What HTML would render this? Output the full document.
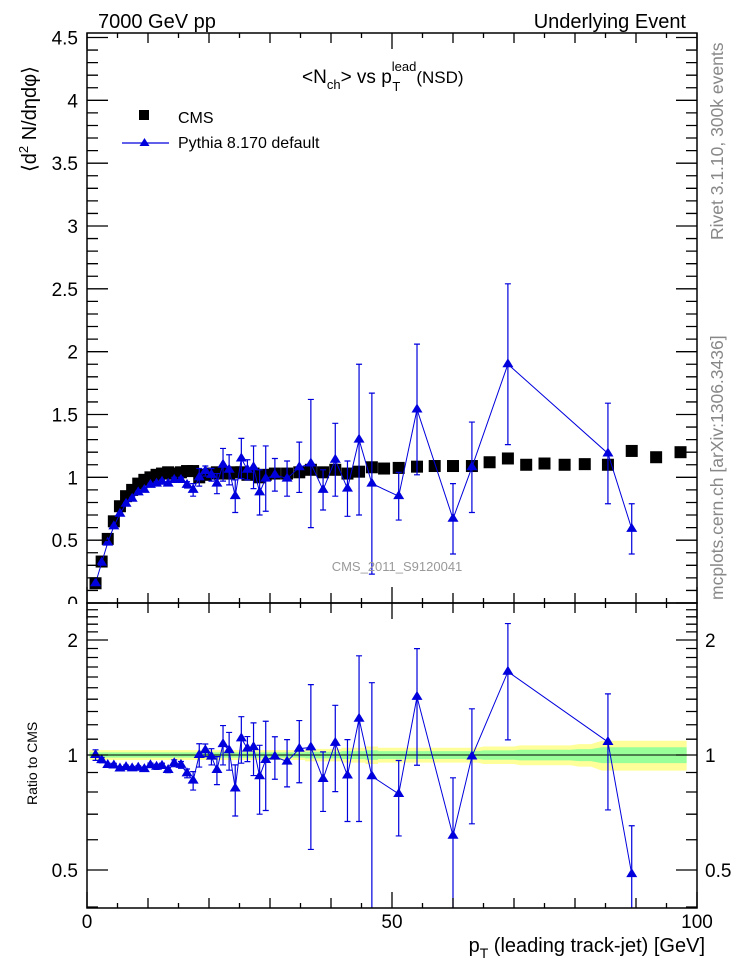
<!DOCTYPE html>
<html><head><meta charset="utf-8"><style>
html,body{margin:0;padding:0;background:#fff;}
svg{display:block;font-family:"Liberation Sans",sans-serif;}
</style></head><body>
<svg id="chart" width="746" height="972" viewBox="0 0 746 972" xmlns="http://www.w3.org/2000/svg">
<g id="bands"></g>
<g id="marks"></g>
<g id="axes"></g>
<text x="98" y="28" font-size="20">7000 GeV pp</text>
<text x="686" y="28" font-size="20" text-anchor="end">Underlying Event</text>
<text x="302" y="83" font-size="19">&lt;N<tspan font-size="13" dy="6">ch</tspan><tspan dy="-6">&gt; vs p</tspan><tspan font-size="13" dy="-12">lead</tspan><tspan font-size="13" dx="-24" dy="20">T</tspan><tspan dx="16" dy="-8" font-size="17">(NSD)</tspan></text>
<g>
<rect x="139" y="110" width="10" height="10" fill="#000"/>
<text x="178" y="123" font-size="16">CMS</text>
<line x1="122" y1="143" x2="169" y2="143" stroke="#0000dd" stroke-width="1.2"/>
<path d="M144.5,138 L149.5,146 L139.5,146 Z" fill="#0000dd"/>
<text x="178" y="148" font-size="16">Pythia 8.170 default</text>
</g>
<text x="397" y="571" font-size="13" fill="#999" text-anchor="middle">CMS_2011_S9120041</text>
<text transform="translate(723,240) rotate(-90)" font-size="17.5" fill="#888">Rivet 3.1.10,  300k events</text>
<text transform="translate(723,600) rotate(-90)" font-size="17.5" fill="#888">mcplots.cern.ch [arXiv:1306.3436]</text>
<text transform="translate(36,172) rotate(-90)" font-size="20">⟨d<tspan font-size="13" dy="-8">2</tspan><tspan dy="8"> N/dηdφ⟩</tspan></text>
<text transform="translate(37,805) rotate(-90)" font-size="14">Ratio to CMS</text>
<text x="705" y="952" font-size="20" text-anchor="end">p<tspan font-size="14" dy="6">T</tspan><tspan dy="-6"> (leading track-jet) [GeV]</tspan></text>
</svg>
<script>
const cmsX=[1.4,2.4,3.4,4.4,5.4,6.4,7.4,8.4,9.4,10.4,11.4,12.3,13.3,14.3,15.4,16.4,17.4,18.4,19.4,20.4,21.3,22.3,23.3,24.3,25.3,26.3,27.3,28.3,29.3,30.8,32.8,34.8,36.7,38.7,40.7,42.7,44.6,46.7,48.7,51.1,54.1,57,60,63.1,66,69,72,75,78.3,81.6,85.4,89.3,93.3,97.3];
const cmsY=[0.157,0.33,0.51,0.65,0.77,0.85,0.9,0.95,0.98,1.0,1.02,1.03,1.04,1.03,1.04,1.05,1.05,1.0,1.02,1.03,1.04,1.03,1.03,1.04,1.04,1.02,1.03,1.0,1.02,1.03,1.03,1.04,1.06,1.04,1.06,1.03,1.045,1.08,1.07,1.075,1.085,1.09,1.09,1.09,1.12,1.15,1.1,1.11,1.1,1.105,1.1,1.21,1.16,1.2];
const cmsRelErr=[0.02,0.02,0.02,0.02,0.02,0.02,0.02,0.02,0.02,0.02,0.02,0.02,0.02,0.02,0.02,0.02,0.02,0.02,0.02,0.02,0.02,0.02,0.02,0.02,0.02,0.02,0.02,0.02,0.02,0.02,0.02,0.02,0.025,0.025,0.025,0.03,0.03,0.035,0.03,0.03,0.03,0.03,0.03,0.03,0.035,0.035,0.04,0.04,0.04,0.045,0.06,0.06,0.06,0.06];
const pyX=[1.4,2.4,3.4,4.4,5.4,6.4,7.4,8.4,9.4,10.4,11.4,12.3,13.3,14.3,15.4,16.4,17.4,18.4,19.4,20.4,21.3,22.3,23.3,24.3,25.3,26.3,27.3,28.3,29.3,30.8,32.8,34.8,36.7,38.7,40.7,42.7,44.6,46.7,51.1,54.1,60,63.1,69,85.4,89.3];
const pyY=[0.157,0.32,0.48,0.61,0.71,0.79,0.83,0.88,0.9,0.94,0.95,0.965,0.95,0.98,0.98,0.94,0.9,1.0,1.05,1.02,0.95,1.1,1.06,0.85,1.15,1.06,1.08,0.88,0.99,1.02,0.99,1.08,1.11,0.9,1.14,0.91,1.3,0.95,0.85,1.54,0.67,1.08,1.9,1.19,0.59];
const pyErr=[0.005,0.005,0.005,0.008,0.008,0.01,0.01,0.01,0.012,0.012,0.015,0.015,0.015,0.02,0.02,0.025,0.05,0.07,0.04,0.05,0.08,0.13,0.12,0.13,0.16,0.08,0.17,0.18,0.26,0.13,0.14,0.2,0.51,0.16,0.29,0.22,0.6,0.72,0.19,0.52,0.28,0.36,0.64,0.4,0.2];
const xTickLabels=["0","50","100"];
const mainTickLabels=["0","0.5","1","1.5","2","2.5","3","3.5","4","4.5"];
const ratioTickLabels=["0.5","1","2"];

const L=87,R=697,MT=33,MB=603,RT=603,RB=908;
const sx=v=>L+(R-L)*v/100;
const sy=v=>MB-(MB-37.5)*v/4.5;
const ry=v=>755-382*Math.log10(v);
const NS="http://www.w3.org/2000/svg";
function mk(tag,attrs,parent){const e=document.createElementNS(NS,tag);for(const k in attrs)e.setAttribute(k,attrs[k]);parent.appendChild(e);return e;}
const axes=document.getElementById('axes'),marks=document.getElementById('marks'),bands=document.getElementById('bands');

let yp="",gp="";
cmsX.forEach((x,i)=>{const e=cmsRelErr[i];const x0=sx(x-1),x1=sx(x+1);
 yp+=(i?"L":"M")+x0+","+ry(1+e*1.5)+"L"+x1+","+ry(1+e*1.5);
 gp+=(i?"L":"M")+x0+","+ry(1+e*0.8)+"L"+x1+","+ry(1+e*0.8);});
for(let i=cmsX.length-1;i>=0;i--){const e=cmsRelErr[i];const x0=sx(cmsX[i]-1),x1=sx(cmsX[i]+1);
 yp+="L"+x1+","+ry(1-e*1.5)+"L"+x0+","+ry(1-e*1.5);
 gp+="L"+x1+","+ry(1-e*0.8)+"L"+x0+","+ry(1-e*0.8);}
const yband=mk('path',{d:yp+"Z",fill:"#ffff99"},bands);


const gband=mk('path',{d:gp+"Z",fill:"#99ff99"},bands);


const one=mk('line',{x1:L,x2:R,y1:ry(1),y2:ry(1),stroke:"#000","stroke-width":1},bands);



cmsX.forEach((x,i)=>{const r=mk('rect',{x:sx(x)-6,y:sy(cmsY[i])-6,width:12,height:12,fill:"#000"},marks);
 
 });

const clipM=v=>Math.max(MT,Math.min(MB,v)), clipR=v=>Math.max(RT,Math.min(RB,v));
function tri(cx,cy,parent){return mk('path',{d:`M${cx},${cy-6}L${cx+5.5},${cy+3}L${cx-5.5},${cy+3}Z`,fill:"#0000dd"},parent);}
let pm="",pr="";
pyX.forEach((x,i)=>{const cx=sx(x);const c=cmsY[cmsX.indexOf(x)];const r=pyY[i]/c,re=pyErr[i]/c;
 pm+=(i?"L":"M")+cx+","+sy(pyY[i]);pr+=(i?"L":"M")+cx+","+ry(r);
 const y1=clipM(sy(pyY[i]+pyErr[i])),y2=clipM(sy(pyY[i]-pyErr[i]));
 const eb=mk('path',{d:`M${cx},${y1}L${cx},${y2}M${cx-3},${y1}L${cx+3},${y1}M${cx-3},${y2}L${cx+3},${y2}`,stroke:"#0000dd","stroke-width":1.2,fill:"none"},marks);
 
 
 const lo=Math.max(r-re,0.01);
 const ry1=clipR(ry(r+re)),ry2=clipR(ry(lo));
 const eb2=mk('path',{d:`M${cx},${ry1}L${cx},${ry2}M${cx-3},${ry1}L${cx+3},${ry1}`+(ry2<RB?`M${cx-3},${ry2}L${cx+3},${ry2}`:""),stroke:"#0000dd","stroke-width":1.2,fill:"none"},marks);
 
 });
const lm=mk('path',{d:pm,stroke:"#0000dd","stroke-width":1,fill:"none"},marks);


const lr=mk('path',{d:pr,stroke:"#0000dd","stroke-width":1,fill:"none"},marks);


pyX.forEach((x,i)=>{const c=cmsY[cmsX.indexOf(x)];
 const t=tri(sx(x),sy(pyY[i]),marks);
 
 
 const t2=tri(sx(x),ry(pyY[i]/c),marks);
 
 });

[[MT,MB],[RT,RB]].forEach(([t,b],k)=>{const f=mk('rect',{x:L,y:t,width:R-L,height:b-t,fill:"none",stroke:"#000","stroke-width":1.5},axes);
 
 });
let xt="";
for(let v=0;v<=100;v+=5){const X=sx(v);const len=v%50==0?16:(v%10==0?10:5);
 xt+=`M${X},${MB}L${X},${MB-len}M${X},${MT}L${X},${MT+len}M${X},${RB}L${X},${RB-len}M${X},${RT}L${X},${RT+len}`;}
for(let i=0;i<=45;i++){const v=i/10;const Y=sy(v);const len=i%5==0?21:11;
 xt+=`M${L},${Y}L${L+len},${Y}M${R},${Y}L${R-len},${Y}`;}
for(let v=0.4;v<=2.51;v+=0.1){const Y=ry(v);if(Y<RT||Y>RB)continue;const big=[0.5,1,2].some(m=>Math.abs(m-v)<1e-6);const len=big?21:11;
 xt+=`M${L},${Y}L${L+len},${Y}M${R},${Y}L${R-len},${Y}`;}
const tk=mk('path',{d:xt,stroke:"#000","stroke-width":1.3,fill:"none"},axes);


xTickLabels.forEach((s,i)=>{const t=mk('text',{x:sx(i*50),y:928,"font-size":19,"text-anchor":"middle"},axes);t.textContent=s;
 
 });
mainTickLabels.forEach((s,i)=>{const t=mk('text',{x:78,y:sy(i*0.5)+7,"font-size":19,"text-anchor":"end"},axes);t.textContent=s;
 
 });
ratioTickLabels.forEach(s=>{const v=parseFloat(s);
 const t=mk('text',{x:78,y:ry(v)+7,"font-size":19,"text-anchor":"end"},axes);t.textContent=s;
 
 
 const t2=mk('text',{x:705,y:ry(v)+7,"font-size":19},axes);t2.textContent=s;
 
 });
const cov=mk('rect',{x:40,y:MB+1,width:45,height:20,fill:"#fff"},axes);


</script>
</body></html>
